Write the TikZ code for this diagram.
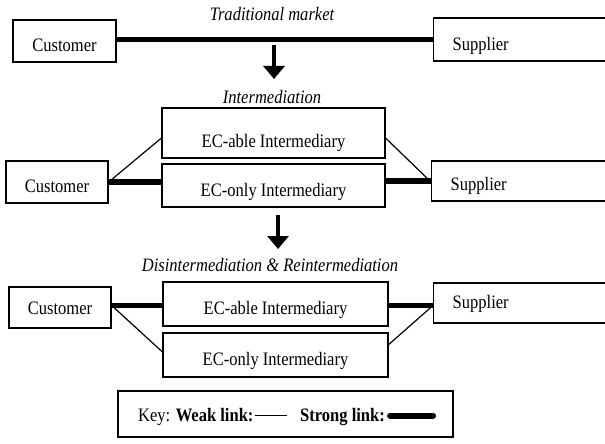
\documentclass[tikz,border=0pt]{standalone}
\usepackage{fontspec}
\setmainfont{Liberation Serif}[FakeStretch=0.87]
\usetikzlibrary{arrows.meta,calc}
\newcommand{\mysize}{\fontsize{19}{22}\selectfont}
\tikzset{
  box/.style={draw, line width=1.4pt, inner sep=0pt, anchor=base},
  supbox/.style={draw, line width=1.4pt, inner ysep=0pt, inner xsep=19pt, anchor=base west, text width=170pt, align=left},
  strong/.style={line width=5.5pt},
  weak/.style={line width=1.2pt},
  lbl/.style={inner sep=0pt, font=\mysize\itshape},
  downarrow/.style={line width=4.5pt, -{Triangle[width=21pt,length=13pt]}},
}
\begin{document}
\begin{tikzpicture}[x=1pt,y=-1pt,font=\mysize]
\useasboundingbox (0,0) rectangle (605,444);
\clip (0,0) rectangle (605,444);
% top row
\node[lbl] (t1) at (272,14) {Traditional market};
\node[box, minimum width=103pt, text height=32pt, text depth=10pt] (cust1) at (64.5,52) {Customer};
\node[supbox, text height=33pt, text depth=10pt] (sup1) at (433,51) {Supplier};
\draw[strong] (cust1.east |- sup1.west) -- (sup1.west);
\coordinate (a1s) at (274,45);
\coordinate (a1e) at (274,79);
\draw[downarrow] (a1s) -- (a1e);
% middle row
\node[lbl] (t2) at (272,97) {Intermediation};
\node[box, minimum width=223pt, text height=39pt, text depth=11pt] (able2) at (273.5,147) {EC-able Intermediary};
\node[box, minimum width=223pt, text height=32pt, text depth=11pt] (only2) at (273.5,196) {EC-only Intermediary};
\node[box, minimum width=102pt, text height=31pt, text depth=11pt] (cust2) at (57,192) {Customer};
\node[supbox, text height=29pt, text depth=11pt] (sup2) at (431,190) {Supplier};
\draw[strong] (cust2.east) -- (cust2.east -| only2.west);
\draw[strong] (only2.east |- sup2.west) -- (sup2.west);
\draw[weak] (cust2.east) -- ($(able2.south west)!0.4!(able2.north west)$);
\draw[weak] ($(able2.south east)!0.4!(able2.north east)$) -- ([yshift=-1pt]sup2.west);
\coordinate (a2s) at (278,215);
\coordinate (a2e) at (278,249);
\draw[downarrow] (a2s) -- (a2e);
% bottom row
\node[lbl] (t3) at (270,265) {Disintermediation \& Reintermediation};
\node[box, minimum width=225pt, text height=32pt, text depth=12pt] (able3) at (275.5,314) {EC-able Intermediary};
\node[box, minimum width=225pt, text height=32pt, text depth=12pt] (only3) at (275.5,365) {EC-only Intermediary};
\node[box, minimum width=102pt, text height=27pt, text depth=14pt] (cust3) at (60,314) {Customer};
\node[supbox, text height=25pt, text depth=15pt] (sup3) at (433,308) {Supplier};
\coordinate (c3) at ([yshift=2pt]cust3.east);
\draw[strong] (c3) -- (c3 -| able3.west);
\draw[strong] (able3.east |- c3) -- (c3 -| sup3.west);
\draw[weak] (c3) -- ($(only3.north west)!0.43!(only3.south west)$);
\draw[weak] (c3 -| sup3.west) -- ($(only3.north east)!0.27!(only3.south east)$);
% key
\node[draw, line width=1.4pt, minimum width=335pt, minimum height=46pt, inner sep=0pt] (key) at (285.5,414) {};
\node[inner sep=0pt, anchor=base west] (k1) at (138,421) {Key: \textbf{Weak link:}};
\coordinate (w1) at ([xshift=1pt,yshift=1pt]k1.east);
\coordinate (w2) at ([xshift=33pt,yshift=1pt]k1.east);
\draw[weak] (w1) -- (w2);
\node[inner sep=0pt, anchor=base west] (k2) at (300,421) {\textbf{Strong link:}};
\coordinate (s1) at ([xshift=5pt,yshift=1pt]k2.east);
\coordinate (s2) at ([xshift=48pt,yshift=1pt]k2.east);
\draw[line width=6pt, line cap=round] (s1) -- (s2);
\end{tikzpicture}
\end{document}
